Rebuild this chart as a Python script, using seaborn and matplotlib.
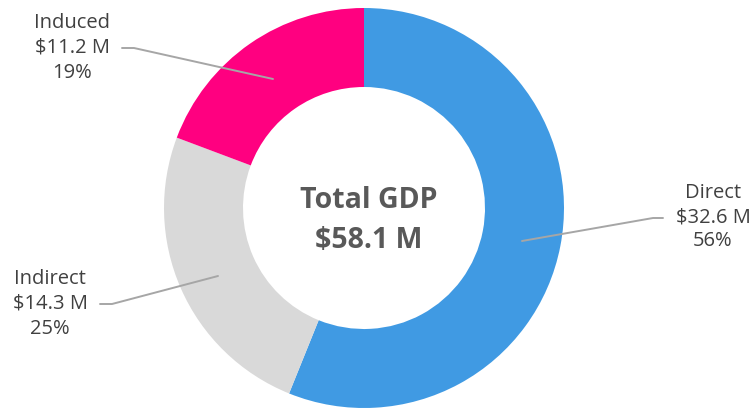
import matplotlib
matplotlib.use("Agg")
import matplotlib.pyplot as plt
import seaborn as sns

# data
segments = ["Direct", "Indirect", "Induced"]
values = [32.6, 14.3, 11.2]
shares = ["56%", "25%", "19%"]
colors = ["#409ae3", "#d9d9d9", "#ff0080"]
total_label = "$58.1 M"

sns.set_theme(style="white")
plt.rcParams["font.family"] = ["Open Sans", "DejaVu Sans"]

fig = plt.figure(figsize=(7.51, 4.08), dpi=100)
# donut centre at (364, 208) px, radius 200 px
ax = fig.add_axes([164 / 751, 0, 400 / 751, 400 / 408])

ax.pie(values, colors=colors, startangle=90, counterclock=False, radius=1,
       wedgeprops=dict(width=0.395, edgecolor="none"))
ax.set_xlim(-1, 1)
ax.set_ylim(-1, 1)
ax.set_aspect("equal")
ax.axis("off")

def px(x, y):
    # pixel -> data coords of the pie axes
    return (x - 364) / 200, (208 - y) / 200

# label text position, line anchor points (text side, elbow, inside ring)
layout = {
    "Direct": dict(text=(713, 217), pts=[(663, 218), (653, 218), (522, 241)]),
    "Indirect": dict(text=(50, 304), pts=[(100, 304), (112, 304), (218, 276)]),
    "Induced": dict(text=(72, 48), pts=[(122, 48), (134, 48), (273, 79)]),
}

for name, val, pct in zip(segments, values, shares):
    lay = layout[name]
    tx, ty = px(*lay["text"])
    ax.text(tx, ty, f"{name}\n${val} M\n{pct}", ha="center", va="center",
            fontsize=14.5, color="#404040", linespacing=1.3, clip_on=False)
    xs, ys = zip(*[px(*p) for p in lay["pts"]])
    ax.plot(xs, ys, color="#a6a6a6", lw=1.4, clip_on=False)

cx, cy = px(369, 200)
ax.text(cx, cy, "Total GDP", ha="center", va="center", fontsize=20.5,
        fontweight="bold", color="#595959")
cx, cy = px(369, 240)
ax.text(cx, cy, total_label, ha="center", va="center", fontsize=20.5,
        fontweight="bold", color="#595959")

fig.savefig("out.png", dpi=100)
